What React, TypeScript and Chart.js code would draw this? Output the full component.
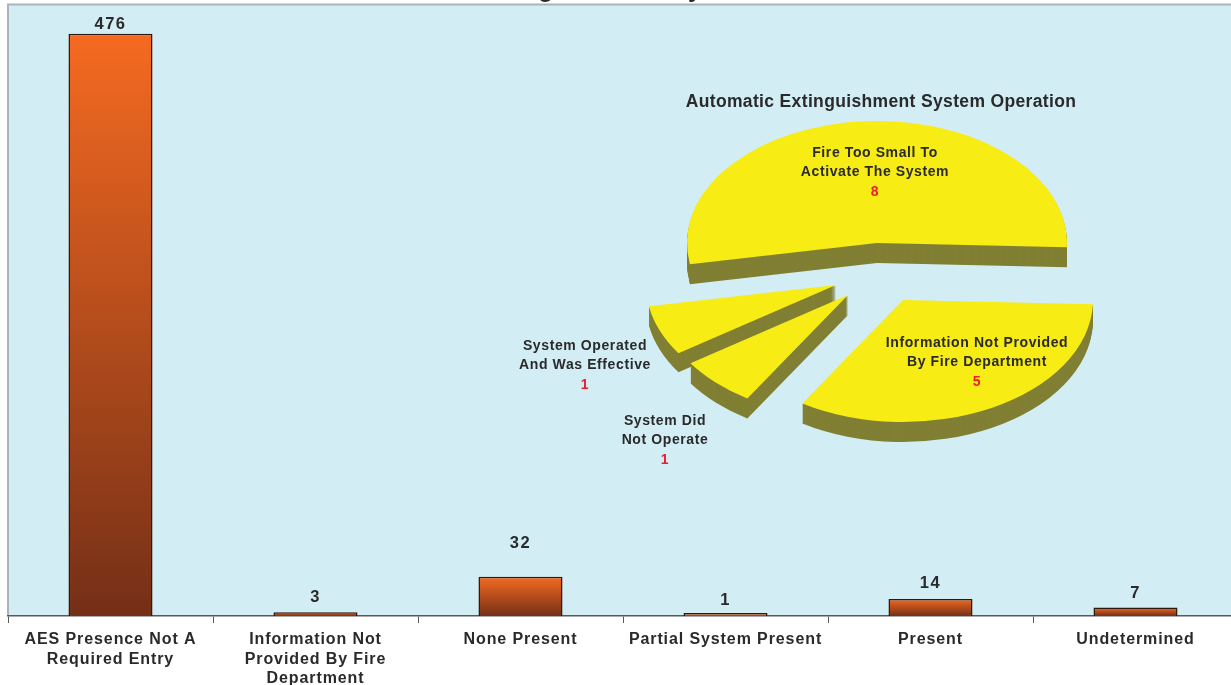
import React, { useEffect, useRef } from "react";
import { Chart, registerables } from "chart.js";

Chart.register(...registerables);

// ---------- data ----------
const categories: (string | string[])[] = [
  ["AES Presence Not A", "Required Entry"],
  ["Information Not", "Provided By Fire", "Department"],
  "None Present",
  "Partial System Present",
  "Present",
  "Undetermined",
];
const counts = [476, 3, 32, 1, 14, 7];

const pieLabels = [
  ["Fire Too Small To", "Activate The System"],
  ["Information Not Provided", "By Fire Department"],
  ["System Did", "Not Operate"],
  ["System Operated", "And Was Effective"],
];
const pieCounts = [8, 5, 1, 1];

const clippedTitle = "Automatic Extinguishment System Presence";
const pieTitle = "Automatic Extinguishment System Operation";

// ---------- styles / layout ----------
const FONT = "'Liberation Sans', Arial, sans-serif";
const INK = "#2a2a2c";
const RED = "#ed1c2e";
const PLOT_BG = "#d3edf4";
const FRAME = "#aab4b9";
const AXIS = "#58595b";
const ORANGE = "#f56a21";
const BROWN = "#742f17";
const YELLOW = "#f7ec13";
const OLIVE = "#807f33";

const valueGaps = [9, 15, 33, 14, 15, 14];

const PIE_LEFT = 500;
const PIE_TOP = 80;
const PIE_RADIUS = 190;
const SQUASH = 0.642;

// where each slice is exploded to on the page, and its wall depth
const sliceStyles = [
  { cx: 877, cy: 243, depth: 20 },
  { cx: 903, cy: 300, depth: 20 },
  { cx: 848, cy: 295, depth: 20 },
  { cx: 836, cy: 285, depth: 19 },
];
const sliceOrder = [0, 3, 2, 1];

const sliceText = [
  { x: 875, y: 153 },
  { x: 977, y: 343 },
  { x: 665, y: 421 },
  { x: 585, y: 346 },
];

const barFrame = {
  id: "barFrame",
  beforeDraw(chart: any) {
    const { ctx, chartArea: a } = chart;
    ctx.letterSpacing = "0.9px";
    ctx.save();
    ctx.fillStyle = PLOT_BG;
    ctx.fillRect(a.left, a.top, a.right - a.left, a.bottom - a.top);
    ctx.strokeStyle = FRAME;
    ctx.lineWidth = 2;
    ctx.beginPath();
    ctx.moveTo(a.left, a.bottom);
    ctx.lineTo(a.left, a.top);
    ctx.lineTo(a.right, a.top);
    ctx.stroke();
    ctx.restore();
  },
  afterDatasetsDraw(chart: any) {
    const { ctx } = chart;
    const bars = chart.getDatasetMeta(0).data;
    ctx.save();
    ctx.fillStyle = INK;
    ctx.letterSpacing = "1.5px";
    ctx.font = `bold 16.5px ${FONT}`;
    ctx.textAlign = "center";
    ctx.textBaseline = "middle";
    const axisY = chart.scales.y;
    bars.forEach((bar: any, i: number) => {
      ctx.fillText(String(counts[i]), bar.x, axisY.getPixelForValue(counts[i]) - valueGaps[i]);
    });
    ctx.letterSpacing = "0px";
    ctx.font = `bold 25px ${FONT}`;
    ctx.textBaseline = "alphabetic";
    ctx.fillText(clippedTitle, 613, -3);
    ctx.restore();
  },
};

const piePainter = {
  id: "piePainter",
  beforeDraw(chart: any) {
    chart.ctx.letterSpacing = "0.35px";
  },
  beforeDatasetDraw(chart: any) {
    const { ctx } = chart;
    const arcs = chart.getDatasetMeta(0).data;
    sliceOrder.forEach((i) => {
      const arc = arcs[i];
      const s = sliceStyles[i];
      const place = (dy: number) => {
        ctx.save();
        ctx.translate(s.cx - PIE_LEFT, s.cy - PIE_TOP + dy);
        ctx.scale(1, SQUASH);
        ctx.translate(-arc.x, -arc.y);
      };
      const topOptions = arc.options;
      arc.options = { ...topOptions, backgroundColor: OLIVE, borderColor: OLIVE };
      for (let d = s.depth; d >= 1; d--) {
        place(d);
        arc.draw(ctx);
        ctx.restore();
      }
      arc.options = topOptions;
      place(0);
      arc.draw(ctx);
      ctx.restore();
    });
    return false;
  },
  afterDatasetsDraw(chart: any) {
    const { ctx } = chart;
    ctx.save();
    ctx.letterSpacing = "0.6px";
    ctx.font = `bold 14px ${FONT}`;
    ctx.textAlign = "center";
    ctx.textBaseline = "middle";
    pieLabels.forEach((lines, i) => {
      const t = sliceText[i];
      ctx.fillStyle = INK;
      lines.forEach((line, k) => {
        ctx.fillText(line, t.x - PIE_LEFT, t.y - PIE_TOP + k * 19.5);
      });
      ctx.fillStyle = RED;
      ctx.fillText(String(pieCounts[i]), t.x - PIE_LEFT, t.y - PIE_TOP + lines.length * 19.5);
    });
    ctx.restore();
  },
};

export default function App() {
  const barRef = useRef<HTMLCanvasElement>(null);
  const pieRef = useRef<HTMLCanvasElement>(null);

  useEffect(() => {
    document.body.style.margin = "0";
    const bar = new Chart(barRef.current!, {
      type: "bar",
      data: {
        labels: categories as any,
        datasets: [
          {
            data: counts,
            barPercentage: 0.41,
            categoryPercentage: 1,
            minBarLength: 3,
            borderWidth: 1.5,
            borderColor: "#2c1a12",
            backgroundColor: (c: any) => {
              const y = c.chart.scales?.y;
              if (!y || c.raw === undefined) return ORANGE;
              const top = y.getPixelForValue(c.raw);
              const bottom = y.getPixelForValue(0);
              if (!Number.isFinite(top) || !Number.isFinite(bottom)) return ORANGE;
              const g = c.chart.ctx.createLinearGradient(0, top, 0, bottom);
              g.addColorStop(0, ORANGE);
              g.addColorStop(1, BROWN);
              return g;
            },
          },
        ],
      },
      options: {
        responsive: false,
        animation: false,
        layout: { padding: { left: 8, top: 4.5, right: 2, bottom: 0 } },
        plugins: { legend: { display: false }, tooltip: { enabled: false }, title: { display: false } },
        scales: {
          y: { display: false, min: 0, max: 500 },
          x: {
            afterFit: (s: any) => {
              s.height = 69;
            },
            border: { color: AXIS, width: 1.5 },
            grid: { drawOnChartArea: false, drawTicks: true, tickLength: 7, color: AXIS, offset: true },
            ticks: {
              autoSkip: false,
              maxRotation: 0,
              minRotation: 0,
              padding: 7,
              color: INK,
              font: { family: FONT, size: 16, weight: "bold", lineHeight: 1.22 },
            },
          },
        },
      } as any,
      plugins: [barFrame],
    });

    const pie = new Chart(pieRef.current!, {
      type: "pie",
      data: {
        labels: pieLabels.map((l) => l.join(" ")),
        datasets: [
          {
            data: pieCounts,
            radius: PIE_RADIUS,
            borderWidth: 0,
            backgroundColor: YELLOW,
          } as any,
        ],
      },
      options: {
        responsive: false,
        animation: false,
        rotation: 260,
        plugins: {
          legend: { display: false },
          tooltip: { enabled: false },
          title: {
            display: true,
            text: pieTitle,
            color: INK,
            font: { family: FONT, size: 17.5, weight: "bold" },
            padding: { top: 12, bottom: 0 },
          },
        },
      } as any,
      plugins: [piePainter],
    });

    return () => {
      bar.destroy();
      pie.destroy();
    };
  }, []);

  return (
    <div style={{ position: "absolute", left: 0, top: 0, width: 1231, height: 685, overflow: "hidden", background: "#fff" }}>
      <canvas ref={barRef} width={1240} height={685} style={{ position: "absolute", left: 0, top: 0, display: "block" }} />
      <canvas ref={pieRef} width={762} height={400} style={{ position: "absolute", left: PIE_LEFT, top: PIE_TOP, display: "block" }} />
    </div>
  );
}
